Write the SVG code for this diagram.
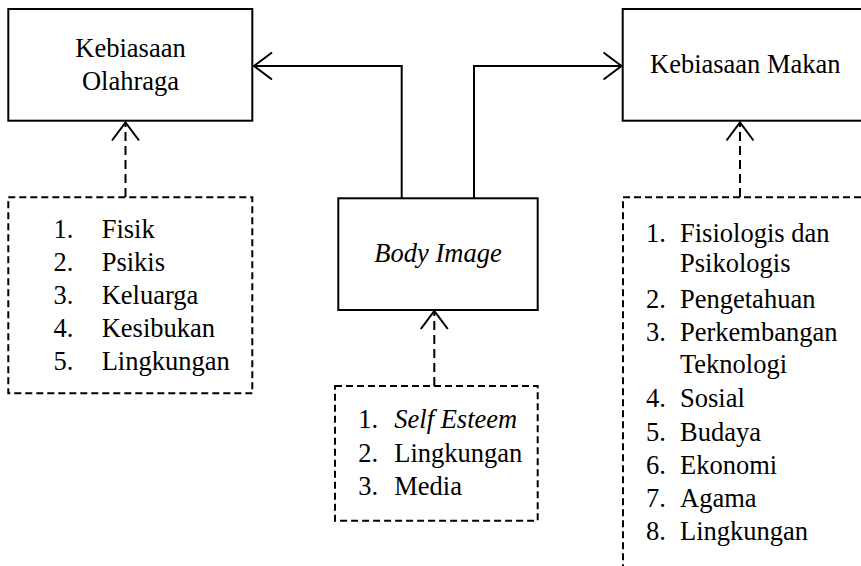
<svg xmlns="http://www.w3.org/2000/svg" width="861" height="566" viewBox="0 0 861 566">
<style>
text{font-family:"Liberation Serif","Times New Roman",Times,Tinos,"DejaVu Serif",serif;font-size:26.5px;fill:#000}
.box{fill:#fff;stroke:#000;stroke-width:2}
.dbox{fill:none;stroke:#000;stroke-width:2;stroke-dasharray:7 4}
.line{fill:none;stroke:#000;stroke-width:2}
.dline{fill:none;stroke:#000;stroke-width:2;stroke-dasharray:9 5}
.c{text-anchor:middle}
.i{font-style:italic}
</style>
<defs>
<marker id="chev" markerUnits="userSpaceOnUse" orient="auto" overflow="visible" markerWidth="20" markerHeight="30" refX="0" refY="0">
<path d="M-18,-13.5 L0,0 L-18,13.5" fill="none" stroke="#000" stroke-width="2"/>
</marker>
</defs>
<rect width="861" height="566" fill="#fff"/>
<g id="connectors">
<path class="line" d="M401.7,198.3 V66 H254" marker-end="url(#chev)"/>
<path class="line" d="M474,198.3 V66 H621.5" marker-end="url(#chev)"/>
<path class="dline" d="M125.5,197 V122.5" marker-end="url(#chev)"/>
<path class="dline" d="M434.3,386 V311" marker-end="url(#chev)"/>
<path class="dline" d="M740,197 V122.5" marker-end="url(#chev)"/>
</g>
<g id="kebiasaan-olahraga">
<rect class="box" x="8.3" y="9" width="244" height="111.7"/>
<text class="c" x="130.5" y="57">Kebiasaan</text>
<text class="c" x="130.5" y="90">Olahraga</text>
</g>
<g id="kebiasaan-makan">
<rect class="box" x="622.7" y="9" width="250" height="111.7"/>
<text x="650" y="73.3">Kebiasaan Makan</text>
</g>
<g id="body-image">
<rect class="box" x="338.3" y="198.3" width="199.4" height="111.7"/>
<text class="c i" x="438" y="262.3">Body Image</text>
</g>
<g id="faktor-olahraga">
<rect class="dbox" x="8.3" y="197.3" width="244" height="196"/>
<text x="53.5" y="238.3">1.</text><text x="101.7" y="238.3">Fisik</text>
<text x="53.5" y="271">2.</text><text x="101.7" y="271">Psikis</text>
<text x="53.5" y="303.5">3.</text><text x="101.7" y="303.5">Keluarga</text>
<text x="53.5" y="336.7">4.</text><text x="101.7" y="336.7">Kesibukan</text>
<text x="53.5" y="370">5.</text><text x="101.7" y="370">Lingkungan</text>
</g>
<g id="faktor-body-image">
<rect class="dbox" x="335" y="386" width="202.7" height="134.7"/>
<text x="358.3" y="428.3">1.</text><text class="i" x="394.3" y="428.3">Self Esteem</text>
<text x="358.3" y="462.3">2.</text><text x="394.3" y="462.3">Lingkungan</text>
<text x="358.3" y="495.3">3.</text><text x="394.3" y="495.3">Media</text>
</g>
<g id="faktor-makan">
<rect class="dbox" x="623" y="197.3" width="260" height="400"/>
<text x="646" y="242.3">1.</text><text x="680" y="242.3">Fisiologis dan</text>
<text x="680" y="272">Psikologis</text>
<text x="646" y="308.3">2.</text><text x="680" y="308.3">Pengetahuan</text>
<text x="646" y="340.7">3.</text><text x="680" y="340.7">Perkembangan</text>
<text x="680" y="373.3">Teknologi</text>
<text x="646" y="406.7">4.</text><text x="680" y="406.7">Sosial</text>
<text x="646" y="440.5">5.</text><text x="680" y="440.5">Budaya</text>
<text x="646" y="474">6.</text><text x="680" y="474">Ekonomi</text>
<text x="646" y="507.3">7.</text><text x="680" y="507.3">Agama</text>
<text x="646" y="540">8.</text><text x="680" y="540">Lingkungan</text>
</g>
</svg>
